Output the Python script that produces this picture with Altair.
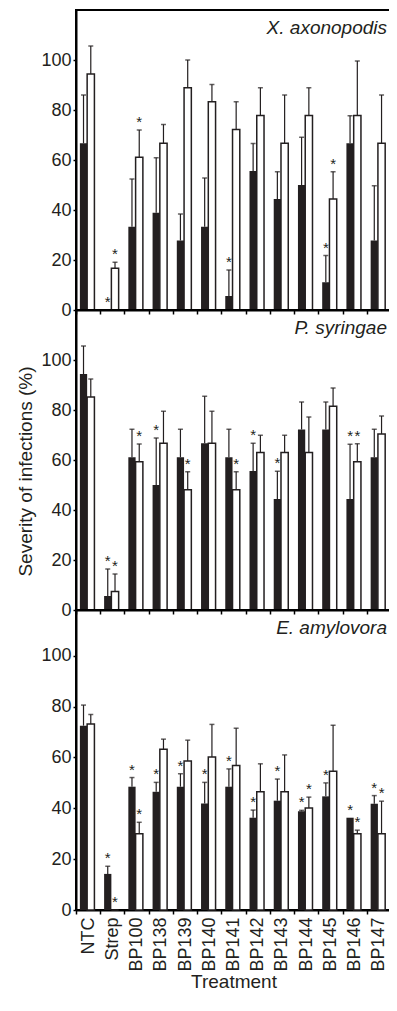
import altair as alt
import pandas as pd

TREATMENTS = ["NTC", "Strep", "BP100", "BP138", "BP139", "BP140", "BP141",
              "BP142", "BP143", "BP144", "BP145", "BP146", "BP147"]

# X. axonopodis
XA_BLACK = [66.7, 0.0, 33.3, 38.9, 27.8, 33.3, 5.6, 55.6, 44.4, 50.0, 11.1, 66.7, 27.8]
XA_BLACK_TOP = [86.0, 0.0, 52.4, 60.9, 38.4, 52.8, 16.0, 66.6, 55.3, 69.1, 21.8, 77.7, 49.7]
XA_WHITE = [94.4, 16.7, 61.1, 66.7, 88.9, 83.3, 72.2, 77.8, 66.7, 77.8, 44.4, 77.8, 66.7]
XA_WHITE_TOP = [105.6, 19.1, 72.0, 74.2, 100.0, 90.2, 83.3, 88.9, 86.0, 88.9, 55.3, 99.6, 86.0]
XA_BLACK_SIG = ["Strep", "BP141", "BP145"]
XA_WHITE_SIG = ["Strep", "BP100", "BP145"]

# P. syringae
PS_BLACK = [94.4, 5.6, 61.1, 50.0, 61.1, 66.7, 61.1, 55.6, 44.4, 72.2, 72.2, 44.4, 61.1]
PS_BLACK_TOP = [105.6, 16.4, 72.3, 68.8, 72.3, 85.5, 72.3, 66.7, 55.5, 83.2, 83.2, 66.3, 72.3]
PS_WHITE = [85.2, 7.4, 59.3, 66.7, 48.1, 66.7, 48.1, 63.0, 63.0, 63.0, 81.5, 59.3, 70.4]
PS_WHITE_TOP = [92.4, 14.4, 66.4, 79.5, 55.3, 79.5, 55.3, 69.9, 69.9, 77.2, 88.8, 66.5, 77.6]
PS_BLACK_SIG = ["Strep", "BP138", "BP142", "BP143", "BP146"]
PS_WHITE_SIG = ["Strep", "BP100", "BP139", "BP141", "BP146"]

# E. amylovora
EA_BLACK = [72.5, 14.2, 48.5, 46.5, 48.5, 41.9, 48.5, 36.3, 43.0, 38.8, 44.7, 36.3, 41.8]
EA_BLACK_TOP = [80.6, 17.2, 52.1, 50.2, 53.6, 50.2, 55.5, 39.3, 51.5, 39.2, 50.0, 36.3, 45.0]
EA_WHITE = [73.2, 0.0, 30.0, 63.2, 58.6, 60.2, 56.8, 46.5, 46.5, 40.1, 54.6, 30.0, 30.0]
EA_WHITE_TOP = [76.9, 0.0, 34.5, 67.2, 66.8, 73.0, 71.5, 57.5, 61.0, 44.4, 72.7, 31.4, 42.8]
EA_BLACK_SIG = ["Strep", "BP100", "BP138", "BP139", "BP140", "BP141", "BP142",
                "BP143", "BP144", "BP145", "BP146", "BP147"]
EA_WHITE_SIG = ["Strep", "BP100", "BP144", "BP146", "BP147"]

Y_TICKS = [0, 20, 40, 60, 80, 100]
INK = "#231f20"
FONT = "Liberation Sans"
W = 315
H = 300


def table(black, black_top, white, white_top, bsig, wsig):
    rows = []
    for i, t in enumerate(TREATMENTS):
        rows.append(dict(treatment=t, series="black", mean=black[i], top=black_top[i],
                         sig=t in bsig))
        rows.append(dict(treatment=t, series="white", mean=white[i], top=white_top[i],
                         sig=t in wsig))
    return pd.DataFrame(rows)


def panel(df, name, ymax, ytitle=False, xlabels=False):
    yaxis_kw = dict(values=Y_TICKS, tickSize=3, labelPadding=2)
    if ytitle:
        yaxis_kw.update(title="Severity of infections (%)", titleX=-51, titleY=161,
                        titleAngle=270, titleAlign="center", titleBaseline="middle")
    else:
        yaxis_kw.update(title=None)
    yscale = alt.Scale(domain=[0, ymax], nice=False, zero=True)

    def ydef(field):
        return alt.Y(field, scale=yscale, axis=alt.Axis(**yaxis_kw))

    if xlabels:
        xaxis = alt.Axis(title="Treatment", labelAngle=270, tickBand="extent", tickSize=4,
                         labelPadding=3, titlePadding=1)
    else:
        xaxis = alt.Axis(title=None, labels=False, tickBand="extent", tickSize=4)

    base = alt.Chart(df).encode(
        x=alt.X("treatment:N", sort=TREATMENTS,
                scale=alt.Scale(paddingInner=0, paddingOuter=0), axis=xaxis),
        xOffset=alt.XOffset("series:N",
                            scale=alt.Scale(domain=["black", "white"], paddingInner=0,
                                            paddingOuter=0.667, align=0.4)),
    )
    bars = base.mark_bar(stroke=INK).encode(
        y=ydef("mean:Q"),
        fill=alt.Fill("series:N", scale=alt.Scale(domain=["black", "white"],
                                                  range=[INK, "white"]), legend=None),
        strokeWidth=alt.condition("datum.series == 'white'", alt.value(1.5), alt.value(0)),
    )
    err = base.transform_filter("datum.top > datum.mean").mark_rule(
        color=INK, strokeWidth=1.2).encode(y=ydef("mean:Q"), y2="top:Q")
    cap = base.transform_filter("datum.top > datum.mean").mark_tick(
        color=INK, size=5, thickness=1.5).encode(y=ydef("top:Q"))
    stars = base.transform_filter("datum.sig").mark_text(
        text="*", font=FONT, fontSize=15, color=INK, baseline="alphabetic", dy=-3
    ).encode(y=ydef("top:Q"))
    label = alt.Chart(pd.DataFrame({"label": [name]})).mark_text(
        font=FONT, fontSize=19, fontStyle="italic", color=INK, align="right",
        baseline="middle"
    ).encode(text="label:N", x=alt.value(W - 4), y=alt.value(18))
    return alt.layer(bars, err, cap, stars, label).properties(width=W, height=H)


p1 = panel(table(XA_BLACK, XA_BLACK_TOP, XA_WHITE, XA_WHITE_TOP, XA_BLACK_SIG, XA_WHITE_SIG),
           "X. axonopodis", 120)
p2 = panel(table(PS_BLACK, PS_BLACK_TOP, PS_WHITE, PS_WHITE_TOP, PS_BLACK_SIG, PS_WHITE_SIG),
           "P. syringae", 120, ytitle=True)
p3 = panel(table(EA_BLACK, EA_BLACK_TOP, EA_WHITE, EA_WHITE_TOP, EA_BLACK_SIG, EA_WHITE_SIG),
           "E. amylovora", 118, xlabels=True)

chart = alt.vconcat(p1, p2, p3, spacing=0, bounds="flush").properties(
    padding={"left": 7, "top": 1, "right": -4, "bottom": 5}
).configure_view(stroke="black", strokeWidth=2).configure_axis(
    grid=False, domainColor="black", domainWidth=2, tickColor="black", tickWidth=1.5,
    labelFont=FONT, labelFontSize=18, labelColor=INK,
    titleFont=FONT, titleFontSize=19, titleFontWeight="normal", titleColor=INK,
)

chart.save("out.html", embed_options={"renderer": "svg", "actions": False})
